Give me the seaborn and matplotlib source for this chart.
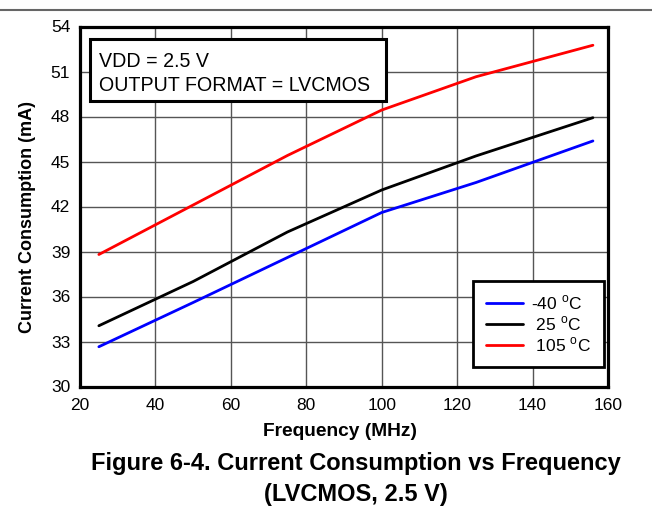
import pandas as pd
import seaborn as sns
import matplotlib.pyplot as plt
from matplotlib.lines import Line2D
from matplotlib.patches import Rectangle

# Data
freq = [25, 50, 75, 100, 125, 156]
i_m40 = [32.65, 35.6, 38.6, 41.6, 43.6, 46.37]
i_25 = [34.05, 37.0, 40.3, 43.1, 45.37, 47.92]
i_105 = [38.8, 42.1, 45.4, 48.43, 50.65, 52.75]
temps = ["-40 $^\\mathregular{o}$C", " 25 $^\\mathregular{o}$C", " 105 $^\\mathregular{o}$C"]
colors = ["#0000ff", "#000000", "#ff0000"]

x_ticks = [20, 40, 60, 80, 100, 120, 140, 160]
y_ticks = [30, 33, 36, 39, 42, 45, 48, 51, 54]

df = pd.DataFrame({
    "Frequency": freq * 3,
    "Current": i_m40 + i_25 + i_105,
    "Temp": [temps[0]] * len(freq) + [temps[1]] * len(freq) + [temps[2]] * len(freq)})

sns.set_style("white")
plt.rcParams["font.family"] = ["Liberation Sans", "DejaVu Sans"]
plt.rcParams["mathtext.fontset"] = "custom"
plt.rcParams["mathtext.rm"] = "Liberation Sans"
plt.rcParams["text.color"] = "black"
plt.rcParams["axes.labelcolor"] = "black"

fig = plt.figure(figsize=(6.52, 5.15), dpi=100)
ax = fig.add_axes([80 / 652, 1 - 386.5 / 515, 528 / 652, 360 / 515])

sns.lineplot(data=df, x="Frequency", y="Current", hue="Temp", hue_order=temps,
             palette=colors, linewidth=2, ax=ax, legend=False)

ax.set_xlim(20, 160)
ax.set_ylim(30, 54)
ax.set_xticks(x_ticks)
ax.set_yticks(y_ticks)
ax.tick_params(axis="both", labelsize=12.5, length=0, colors="black")
ax.tick_params(axis="y", pad=7)
ax.tick_params(axis="x", pad=8)
ax.grid(True, color="#555555", linewidth=1)
for s in ax.spines.values():
    s.set_linewidth(2.3)
    s.set_color("black")

ax.set_xlabel("Frequency (MHz)", fontsize=13.8, fontweight="bold")
ax.set_ylabel("Current Consumption (mA)", fontsize=13, fontweight="bold")
ax.xaxis.set_label_coords(0.492, -0.1)
ax.yaxis.set_label_coords(-0.083, 0.471)

# condition box
ax.add_patch(Rectangle((0.019, 0.793), 0.5605, 0.172, transform=ax.transAxes,
                       facecolor="white", edgecolor="black", linewidth=2.2, zorder=4))
ax.text(0.036, 0.929, "VDD = 2.5 V\nOUTPUT FORMAT = LVCMOS", transform=ax.transAxes,
        fontsize=14.1, va="top", ha="left", linespacing=1.3, zorder=5)

handles = [Line2D([0], [0], color=c, linewidth=2) for c in colors]
leg = ax.legend(handles, temps, loc="lower right", bbox_to_anchor=(0.993, 0.054),
                fontsize=12.5, frameon=True, fancybox=False, framealpha=1,
                handlelength=2.1, handletextpad=0.5, borderpad=0.75, labelspacing=0.12,
                borderaxespad=0)
leg.get_frame().set_edgecolor("black")
leg.get_frame().set_linewidth(2)

fig.text(0.546, 1 - 470 / 515, "Figure 6-4. Current Consumption vs Frequency",
         ha="center", va="baseline", fontsize=17, fontweight="bold")
fig.text(0.546, 1 - 501 / 515, "(LVCMOS, 2.5 V)",
         ha="center", va="baseline", fontsize=17, fontweight="bold")

fig.add_artist(Line2D([0, 1], [1 - 10 / 515, 1 - 10 / 515], color="#666666", linewidth=1.5))

fig.savefig("out.png", dpi=100)
